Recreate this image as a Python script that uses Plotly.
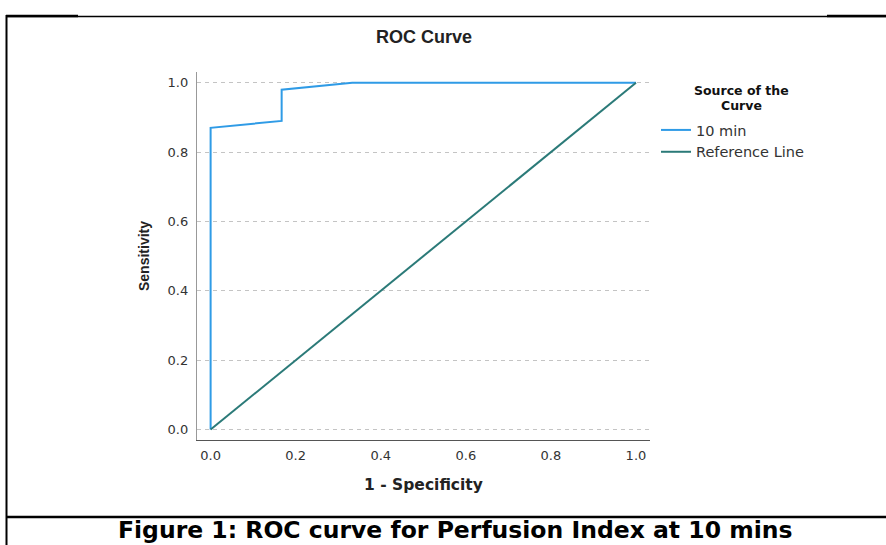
import plotly.graph_objects as go

# ---- data ----
roc_fpr = [0.0, 0.0, 0.167, 0.167, 0.333, 1.0]
roc_tpr = [0.0, 0.87, 0.89, 0.98, 1.0, 1.0]
ref_x = [0.0, 1.0]
ref_y = [0.0, 1.0]
tick_vals = [0.0, 0.2, 0.4, 0.6, 0.8, 1.0]
tick_text = ["0.0", "0.2", "0.4", "0.6", "0.8", "1.0"]

W, H = 886, 545
L, R, T, B = 197, 236, 72, 105
PW, PH = W - L - R, H - T - B

def px(x):
    return (x - L) / PW

def py(y):
    return (H - B - y) / PH

ARIAL = "Liberation Sans, Arial, sans-serif"
WIDE = "DejaVu Sans, Verdana, sans-serif"

fig = go.Figure()
fig.add_trace(go.Scatter(x=roc_fpr, y=roc_tpr, mode="lines", name="10 min",
                         line=dict(color="#2f9be6", width=2)))
fig.add_trace(go.Scatter(x=ref_x, y=ref_y, mode="lines", name="Reference Line",
                         line=dict(color="#2b7a78", width=2)))

shapes = []
def seg(x0, y0, x1, y1, w):
    shapes.append(dict(type="line", xref="paper", yref="paper",
                       x0=px(x0), y0=py(y0), x1=px(x1), y1=py(y1),
                       line=dict(color="black", width=w), layer="above"))

seg(6, 16.5, 886, 16.5, 1.5)
seg(6, 16, 78, 16, 2.6)
seg(827, 16, 886, 16, 2.6)
seg(6.5, 15, 6.5, 545, 2)
seg(6, 517, 886, 517, 2.6)

annotations = [
    dict(text="<b>Figure 1: ROC curve for Perfusion Index at 10 mins</b>",
         xref="paper", yref="paper", x=px(455), y=py(546), xanchor="center", yanchor="bottom",
         showarrow=False, font=dict(family=WIDE, size=23.5, color="black")),
    dict(text="<b>Source of the</b>",
         xref="paper", yref="paper", x=px(741), y=py(91), xanchor="center", yanchor="middle",
         showarrow=False, font=dict(family=WIDE, size=12.5, color="#111")),
    dict(text="<b>Curve</b>",
         xref="paper", yref="paper", x=px(741), y=py(106), xanchor="center", yanchor="middle",
         showarrow=False, font=dict(family=WIDE, size=12.5, color="#111")),
]

fig.update_layout(
    width=W, height=H,
    margin=dict(l=L, r=R, t=T, b=B, pad=0),
    paper_bgcolor="white", plot_bgcolor="white",
    title=dict(text="<b>ROC Curve</b>", xref="paper", x=px(424), xanchor="center",
               yref="container", y=1 - 37 / H, yanchor="middle",
               font=dict(family=ARIAL, size=18, color="#222")),
    xaxis=dict(range=[-0.032, 1.033], tickvals=tick_vals, ticktext=tick_text,
               showgrid=False, zeroline=False, showline=True, linecolor="#555", linewidth=1.3,
               ticks="outside", ticklen=3, tickcolor="rgba(0,0,0,0)",
               tickfont=dict(family=WIDE, size=13, color="#333"),
               title=dict(text="<b>1 - Specificity</b>", standoff=17,
                          font=dict(family=WIDE, size=15.5, color="#222"))),
    yaxis=dict(range=[-0.030, 1.031], tickvals=tick_vals, ticktext=tick_text,
               showgrid=True, gridcolor="#c4c4c4", griddash="4px,4px", gridwidth=1,
               zeroline=False, showline=True, linecolor="#999", linewidth=1.3,
               ticks="outside", ticklen=5, tickcolor="rgba(0,0,0,0)",
               tickfont=dict(family=WIDE, size=13, color="#333"),
               title=dict(text="<b>Sensitivity</b>", standoff=14,
                          font=dict(family=ARIAL, size=14, color="#222"))),
    legend=dict(x=px(656), y=py(114), xanchor="left", yanchor="top",
                font=dict(family=WIDE, size=14.5, color="#333"),
                bgcolor="rgba(0,0,0,0)", tracegroupgap=0, itemwidth=30),
    shapes=shapes,
    annotations=annotations,
    showlegend=True,
)

fig.write_html("out.html", config={"displayModeBar": False},
               post_script="document.body.style.margin='0';document.body.style.padding='0';")
